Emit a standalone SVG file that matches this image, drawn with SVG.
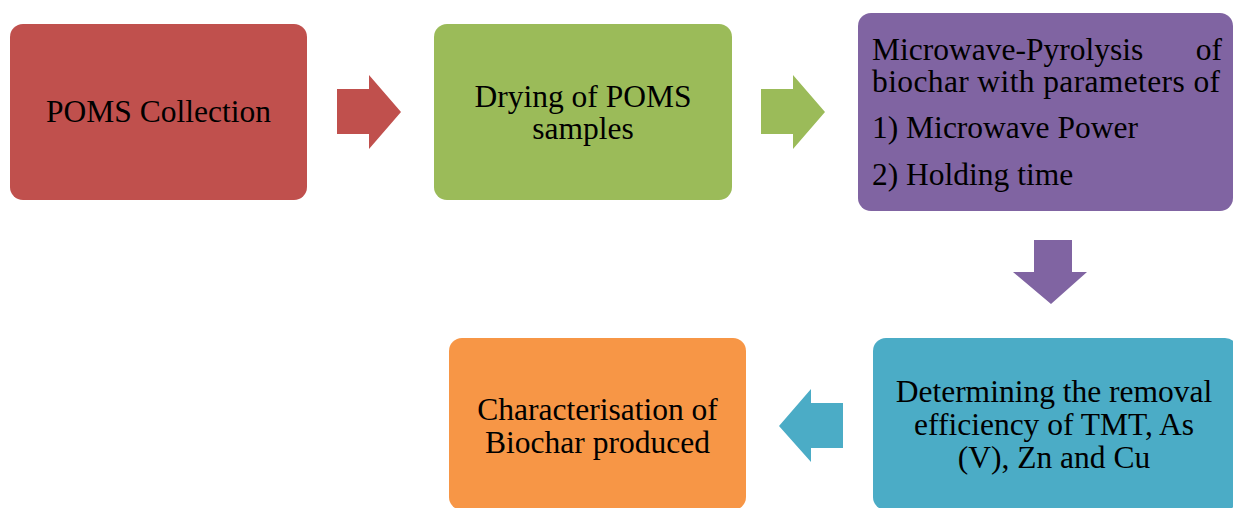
<svg xmlns="http://www.w3.org/2000/svg" width="1233" height="508" viewBox="0 0 1233 508">
<style>
text{font-family:"Liberation Serif","Times New Roman",serif;font-size:31.5px;fill:#000}
.c{text-anchor:middle}
</style>
<rect width="1233" height="508" fill="#fff"/>
<g id="n1"><rect x="10" y="24" width="297" height="176" rx="13" fill="#C0504D"/><text class="c" x="158.5" y="122">POMS Collection</text></g>
<g id="n2"><rect x="434" y="24" width="298" height="176" rx="13" fill="#9BBB59"/><text class="c" x="583" y="106.5">Drying of POMS</text><text class="c" x="583" y="138.5">samples</text></g>
<g id="n3"><rect x="858" y="13" width="375" height="198" rx="13" fill="#8064A2"/>
<text x="872" y="60">Microwave-Pyrolysis</text><text x="1222" y="60" text-anchor="end">of</text>
<text x="872" y="92" textLength="348" lengthAdjust="spacing">biochar with parameters of</text>
<text x="872" y="138">1) Microwave Power</text>
<text x="872" y="185">2) Holding time</text></g>
<g id="n4"><rect x="873" y="338" width="365" height="172" rx="13" fill="#4BACC6"/><text class="c" x="1054" y="402">Determining the removal</text><text class="c" x="1054" y="435">efficiency of TMT, As</text><text class="c" x="1054" y="468">(V), Zn and Cu</text></g>
<g id="n5"><rect x="449" y="338" width="297" height="172" rx="13" fill="#F79646"/><text class="c" x="597.5" y="420">Characterisation of</text><text class="c" x="597.5" y="453">Biochar produced</text></g>
<g id="connectors">
<polygon points="337,89 369,89 369,75 401,112 369,149 369,134 337,134" fill="#C0504D"/>
<polygon points="761,89 793,89 793,75 825,112 793,149 793,134 761,134" fill="#9BBB59"/>
<polygon points="1034,240 1072,240 1072,272 1087,272 1051,304 1013,272 1034,272" fill="#8064A2"/>
<polygon points="843,403 811,403 811,389 779,426 811,462 811,448 843,448" fill="#4BACC6"/>
</g>
</svg>
